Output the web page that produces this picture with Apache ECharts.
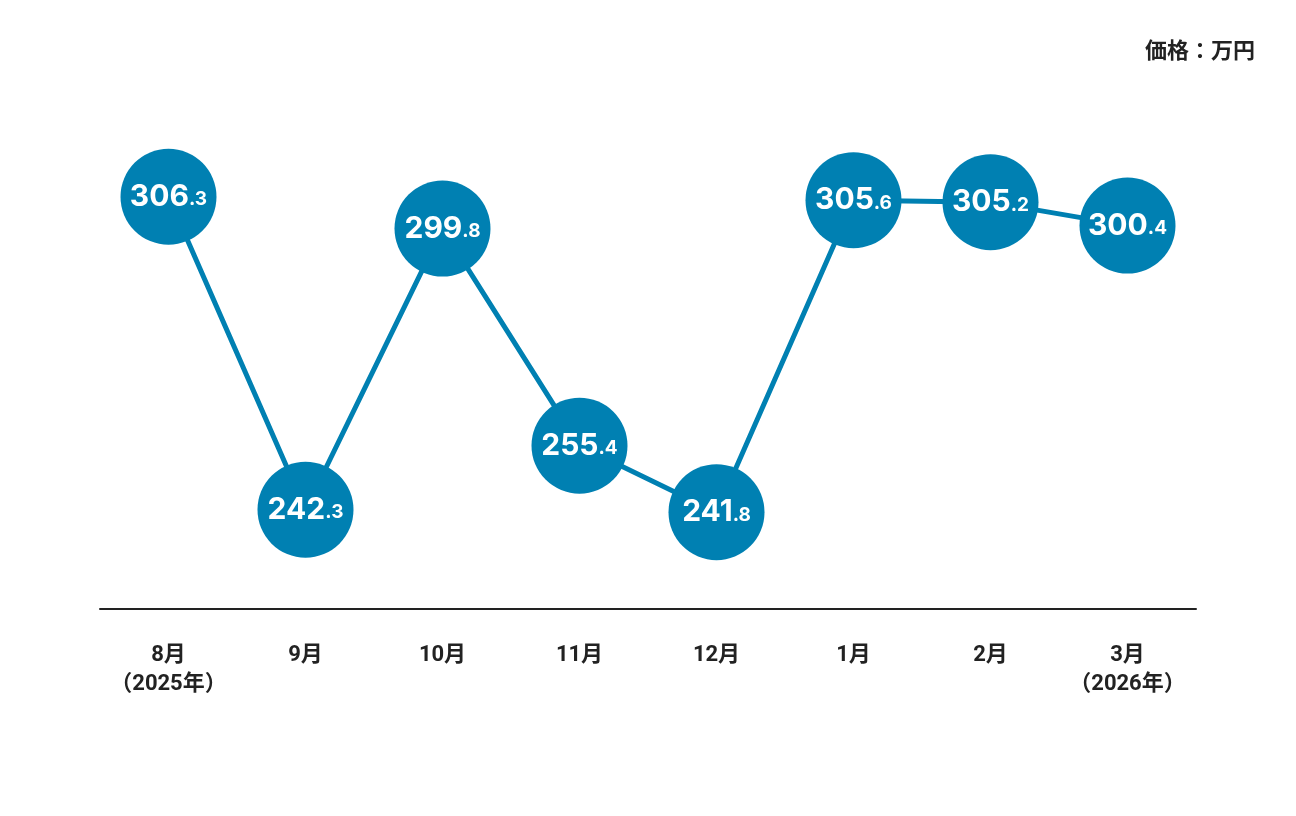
<!DOCTYPE html>
<html><head><meta charset="utf-8">
<script src="https://cdn.jsdelivr.net/npm/echarts@6/dist/echarts.min.js"></script>
<style>html,body{margin:0;padding:0;background:#fff}#c{width:1296px;height:816px}</style>
</head><body><div id="c"></div>
<script>
const categories = ['8月\n（2025年）','9月','10月','11月','12月','1月','2月','3月\n（2026年）'];
const prices = [306.3, 242.3, 299.8, 255.4, 241.8, 305.6, 305.2, 300.4];
const unitLabel = '価格：万円';

const chart = echarts.init(document.getElementById('c'), null, {renderer:'canvas'});
const blue = '#0080B2';
const jp = 'Roboto, "Noto Sans CJK JP"';
chart.setOption({
  backgroundColor:'#fff',
  animation:false,
  title:{text:unitLabel,right:36,top:36,textStyle:{fontFamily:jp,fontSize:22,fontWeight:'bold',color:'#222'}},
  grid:{left:100,right:100,top:120,bottom:207},
  xAxis:{type:'category',data:categories,boundaryGap:true,
    axisLine:{lineStyle:{color:'#222',width:2}},axisTick:{show:false},
    axisLabel:{interval:0,hideOverlap:false,margin:32,fontFamily:jp,fontSize:22,fontWeight:'bold',color:'#222',lineHeight:29}},
  yAxis:{type:'value',min:222,max:322,show:false,splitLine:{show:false}},
  series:[{type:'line',data:prices,symbol:'circle',symbolSize:96,showAllSymbol:true,
    labelLayout:{hideOverlap:false},
    lineStyle:{color:blue,width:5},itemStyle:{color:blue,borderWidth:0},
    label:{show:true,position:'inside',
      formatter:p=>{const s=p.value.toFixed(1).split('.');return '{a|'+s[0]+'}{b|.'+s[1]+'}';},
      rich:{a:{fontFamily:'Inter',fontWeight:'bold',fontSize:30,color:'#fff'},
            b:{fontFamily:'Inter',fontWeight:'bold',fontSize:19,color:'#fff',padding:[6,0,0,0]}}}
  }]
});
</script></body></html>
